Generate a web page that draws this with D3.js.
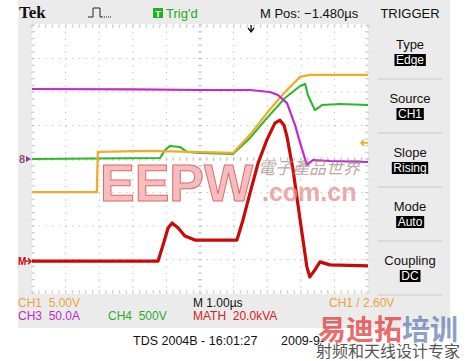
<!DOCTYPE html>
<html>
<head>
<meta charset="utf-8">
<script src="https://cdn.jsdelivr.net/npm/d3@7/dist/d3.min.js"></script>
<style>
  body { margin: 0; background: #fff; }
</style>
</head>
<body>
<div id="chart"></div>
<script>
// Screen size
const width = 468;
const height = 361;

// Time axis in microseconds (1.00 us / div), vertical in divisions
const timeDomain = [-5, 5];
const divDomain = [-4, 4];

// CH3 (current) trace, purple
const tCh3 = [-5, -2, 0, 1.49, 2.08, 2.32, 2.59, 2.83, 2.98, 3.18, 3.36, 3.87, 5];
const vCh3 = [2.09, 2.08, 2.06, 2.06, 2.0, 1.91, 1.67, 1.01, 0.48, -0.18, -0.03, -0.06, -0.09];

// CH1 trace, orange
const tCh1 = [-5, -3.07, -3.04, -1.49, 0.98, 1.49, 1.99, 2.53, 2.98, 3.27, 5];
const vCh1 = [-0.99, -0.99, 0.21, 0.24, 0.18, 0.72, 1.37, 2.0, 2.45, 2.51, 2.51];

// CH4 trace, green
const tCh4 = [-5, -1.19, -1.04, -0.89, -0.6, -0.39, 0, 0.98, 1.49, 1.99, 2.53, 2.98, 3.13, 3.21, 3.42, 3.63, 4.17, 5];
const vCh4 = [0, 0.03, 0.27, 0.39, 0.36, 0.21, 0.18, 0.15, 0.63, 1.22, 1.82, 2.18, 2.24, 1.91, 1.46, 1.61, 1.64, 1.61];

// MATH trace (power), red
const tMath = [-5, -1.25, -1.10, -0.95, -0.83, -0.65, -0.45, -0.15, 1.10, 1.28, 1.49, 1.73, 1.99, 2.23, 2.38, 2.5, 2.59, 2.77, 2.98, 3.18, 3.27, 3.42, 3.57, 3.87, 5];
const vMath = [-3.05, -3.05, -2.57, -2.06, -1.91, -2.06, -2.3, -2.42, -2.42, -1.82, -1.01, -0.12, 0.57, 1.07, 1.16, 1.01, 0.66, -0.33, -1.82, -3.22, -3.52, -3.31, -3.07, -3.16, -3.19];

// Trigger menu entries
const menuLabels = ["Type", "Source", "Slope", "Mode", "Coupling"];
const menuValues = ["Edge", "CH1", "Rising", "Auto", "DC"];

const trigPosTime = 1.52;   // trigger position marker
const trigLevelDiv = 0.48;  // CH1 trigger level marker

const narrow = '"Liberation Sans Narrow", "Arial Narrow", "Liberation Sans", sans-serif';
const plain = '"Liberation Sans", Arial, sans-serif';

const xScale = d3.scaleLinear().domain(timeDomain).range([32, 368]);
const yScale = d3.scaleLinear().domain(divDomain).range([293, 25]);

const svg = d3.select("#chart").append("svg")
    .attr("width", width)
    .attr("height", height)
    .style("font-family", narrow);

svg.append("rect").attr("width", width).attr("height", height).attr("fill", "#fff");
svg.append("rect").attr("x", 18).attr("y", 0).attr("width", 432).attr("height", 328).attr("fill", "#ebebeb");
svg.append("rect").attr("x", 32).attr("y", 24).attr("width", 336).attr("height", 270).attr("fill", "#fff");

// ---- graticule: dotted lines every division, small ticks on edges and centre
const grid = svg.append("g").attr("stroke", "#bdbdbd");
const majorX = d3.range(timeDomain[0], timeDomain[1] + 1);
const majorY = d3.range(divDomain[0], divDomain[1] + 1);
grid.selectAll("line.v").data(majorX).enter().append("line")
    .attr("x1", d => xScale(d)).attr("x2", d => xScale(d))
    .attr("y1", yScale(4)).attr("y2", yScale(-4))
    .attr("stroke-width", 1.1)
    .attr("stroke-dasharray", "1.2,5.5");
grid.selectAll("line.h").data(majorY).enter().append("line")
    .attr("y1", d => yScale(d)).attr("y2", d => yScale(d))
    .attr("x1", xScale(-5)).attr("x2", xScale(5))
    .attr("stroke-width", 1.1)
    .attr("stroke-dasharray", "1.2,5.52");

const minorX = d3.range(-5, 5.01, 0.2);
const minorY = d3.range(-4, 4.01, 0.2);
[[4, 3], [-4, -3], [0, 2], [0, -2]].forEach(([v, len]) => {
    grid.append("g").selectAll("line").data(minorX).enter().append("line")
        .attr("x1", d => xScale(d)).attr("x2", d => xScale(d))
        .attr("y1", yScale(v)).attr("y2", yScale(v) + len)
        .attr("stroke-width", 0.8);
});
[[-5, 3], [5, -3], [0, 2], [0, -2]].forEach(([t, len]) => {
    grid.append("g").selectAll("line").data(minorY).enter().append("line")
        .attr("y1", d => yScale(d)).attr("y2", d => yScale(d))
        .attr("x1", xScale(t)).attr("x2", xScale(t) + len)
        .attr("stroke-width", 0.8);
});

// ---- traces
const line = d3.line().x(d => xScale(d[0])).y(d => yScale(d[1]));
const traces = [
    { t: tMath, v: vMath, color: "#c80a0a", w: 3.2 },
    { t: tCh4, v: vCh4, color: "#2cb82c", w: 2.1 },
    { t: tCh1, v: vCh1, color: "#f2aa2c", w: 2.3 },
    { t: tCh3, v: vCh3, color: "#c22ad0", w: 2.2 }
];
traces.forEach(tr => {
    svg.append("path")
        .datum(d3.zip(tr.t, tr.v))
        .attr("d", line)
        .attr("fill", "none")
        .attr("stroke", tr.color)
        .attr("stroke-width", tr.w)
        .attr("stroke-linejoin", "round");
});

// ---- markers
svg.append("text").attr("x", 19).attr("y", yScale(0) + 4)
    .attr("font-size", 11).attr("font-weight", "bold").attr("fill", "#9a4a78").text("8");
svg.append("path").attr("d", `M26,${yScale(0) - 3} L31,${yScale(0)} L26,${yScale(0) + 3}Z`).attr("fill", "#8a3aa0");
svg.append("text").attr("x", 18).attr("y", yScale(-3.05) + 4)
    .attr("font-size", 10).attr("font-weight", "bold").attr("fill", "#c80a0a").text("M");
svg.append("path").attr("d", `M25,${yScale(-3.05)} L31,${yScale(-3.05)} M28,${yScale(-3.05) - 3} L31,${yScale(-3.05)} L28,${yScale(-3.05) + 3}`)
    .attr("stroke", "#c80a0a").attr("stroke-width", 1.3).attr("fill", "none");
const tl = yScale(trigLevelDiv);
svg.append("path").attr("d", `M368,${tl} L361,${tl} M364,${tl - 3} L361,${tl} L364,${tl + 3}`)
    .attr("stroke", "#f2aa2c").attr("stroke-width", 1.6).attr("fill", "none");
const tp = xScale(trigPosTime);
svg.append("path").attr("d", `M${tp},25 L${tp},31 M${tp - 3},28 L${tp},32 L${tp + 3},28`)
    .attr("stroke", "#111").attr("stroke-width", 1.3).attr("fill", "none");

// ---- header
svg.append("text").attr("x", 19).attr("y", 18)
    .style("font-family", '"Liberation Serif", "DejaVu Serif", serif').attr("font-weight", "bold")
    .attr("font-size", 17).attr("fill", "#111").text("Tek");
svg.append("path").attr("d", "M88,17 L93,17 L93,8 L100,8 L100,17 L103,17")
    .attr("stroke", "#222").attr("stroke-width", 1).attr("fill", "none");
svg.append("path").attr("d", "M104,17 L111,17")
    .attr("stroke", "#222").attr("stroke-width", 1).attr("stroke-dasharray", "1,1").attr("fill", "none");
svg.append("rect").attr("x", 153).attr("y", 8).attr("width", 10).attr("height", 10).attr("fill", "#22b022");
svg.append("text").attr("x", 158).attr("y", 16.5).attr("text-anchor", "middle")
    .attr("font-size", 9).attr("font-weight", "bold").attr("fill", "#fff").text("T");
svg.append("text").attr("x", 166).attr("y", 18).attr("font-size", 13).attr("fill", "#22aa22").text("Trig'd");
svg.append("text").attr("x", 260).attr("y", 18).attr("font-size", 13).attr("fill", "#111").text("M Pos: \u22121.480µs");
svg.append("text").attr("x", 410).attr("y", 18).attr("text-anchor", "middle")
    .attr("font-size", 13).attr("fill", "#111").text("TRIGGER");

// ---- trigger menu
const menuTop = 45;
const menuStep = 54;
menuLabels.forEach((lab, i) => {
    const y0 = menuTop + i * menuStep;
    svg.append("text").attr("x", 410).attr("y", y0 + 4).attr("text-anchor", "middle")
        .attr("font-size", 13).attr("fill", "#111").text(lab);
    const val = svg.append("text").attr("x", 410).attr("y", y0 + 19).attr("text-anchor", "middle")
        .attr("font-size", 12).attr("fill", "#fff").text(menuValues[i]);
    const bb = val.node().getBBox();
    svg.insert("rect", () => val.node())
        .attr("x", bb.x - 1.5).attr("y", y0 + 9).attr("width", bb.width + 3).attr("height", 12)
        .attr("fill", "#000");
    svg.append("line").attr("x1", 378).attr("x2", 442)
        .attr("y1", y0 + 34).attr("y2", y0 + 34)
        .attr("stroke", "#c9c9c9").attr("stroke-width", 1.2);
});

// ---- readouts
const readouts = [
    { x: 18, y: 306.5, s: "CH1  5.00V", c: "#eaa43c" },
    { x: 193, y: 306.5, s: "M 1.00µs", c: "#111" },
    { x: 329, y: 306.5, s: "CH1 / 2.60V", c: "#eaa43c" },
    { x: 18, y: 319.5, s: "CH3  50.0A", c: "#c22ac2" },
    { x: 108, y: 319.5, s: "CH4  500V", c: "#2cac2c" },
    { x: 193, y: 319.5, s: "MATH  20.0kVA", c: "#d82020" }
];
readouts.forEach(r => {
    svg.append("text").attr("x", r.x).attr("y", r.y).attr("font-size", 12)
        .attr("fill", r.c).style("white-space", "pre").text(r.s);
});
svg.append("text").attr("x", 133).attr("y", 345).style("font-family", plain)
    .attr("font-size", 12.5).attr("fill", "#111").text("TDS 2004B - 16:01:27");
svg.append("text").attr("x", 281).attr("y", 345).style("font-family", plain)
    .attr("font-size", 12.5).attr("fill", "#111").text("2009-9-");

// ---- watermarks
svg.append("text").attr("x", 100).attr("y", 201)
    .style("font-family", plain).attr("font-weight", "bold")
    .attr("font-size", 52).attr("fill", "#f0a8a8").attr("fill-opacity", 0.75)
    .attr("stroke", "#e06a6a").attr("stroke-width", 1).text("EEPW");
svg.append("text").attr("x", 258).attr("y", 174)
    .style("font-family", '"Noto Sans CJK TC", sans-serif').attr("font-size", 17).attr("font-style", "italic")
    .attr("fill", "#a88888").attr("fill-opacity", 0.75).text("電子產品世界");
svg.append("text").attr("x", 262).attr("y", 201)
    .style("font-family", plain).attr("font-weight", "bold")
    .attr("font-size", 25).attr("fill", "#e89090").attr("fill-opacity", 0.8).text(".com.cn");
svg.append("text").attr("x", 318).attr("y", 340)
    .style("font-family", '"Noto Sans CJK SC", sans-serif').attr("font-weight", "bold")
    .attr("font-size", 28).attr("fill", "#e02a2a").attr("fill-opacity", 0.7).text("易迪拓");
svg.append("text").attr("x", 402).attr("y", 340)
    .style("font-family", '"Noto Sans CJK SC", sans-serif').attr("font-weight", "bold")
    .attr("font-size", 28).attr("fill", "#4a6aa8").attr("fill-opacity", 0.65).text("培训");
svg.append("text").attr("x", 316).attr("y", 357)
    .style("font-family", '"Noto Sans CJK SC", sans-serif').attr("font-size", 16)
    .attr("fill", "#555").text("射频和天线设计专家");
</script>
</body>
</html>
